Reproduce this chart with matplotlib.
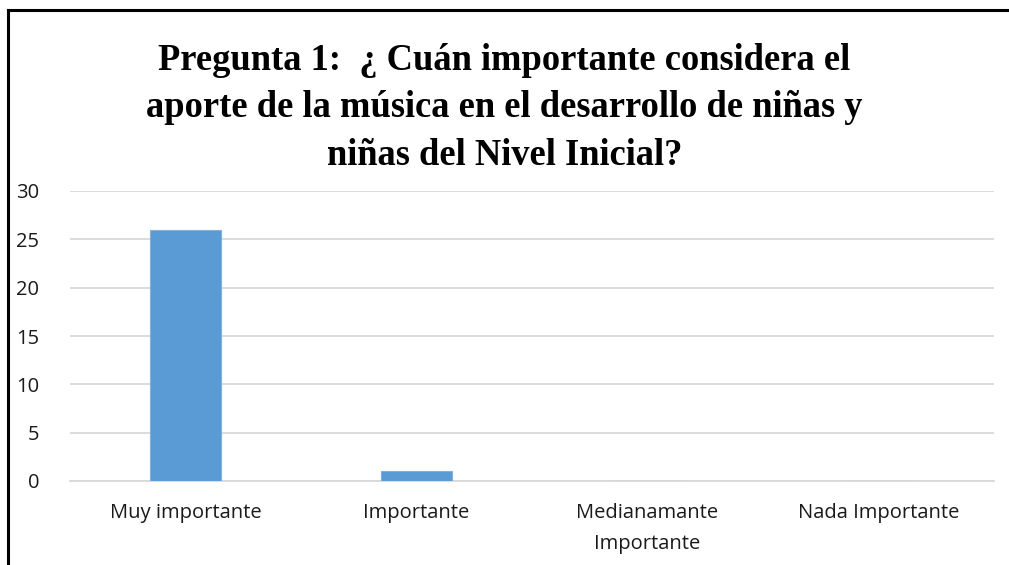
import matplotlib
matplotlib.use("Agg")
import matplotlib.pyplot as plt
from matplotlib.lines import Line2D

categories = ["Muy importante", "Importante", "Medianamante\nImportante", "Nada Importante"]
values = [26, 1, 0, 0]
yticks = [0, 5, 10, 15, 20, 25, 30]
title = "Pregunta 1:  ¿ Cuán importante considera el\naporte de la música en el desarrollo de niñas y\nniñas del Nivel Inicial?"

fig = plt.figure(figsize=(10.09, 5.65), dpi=100)
ax = fig.add_axes([70 / 1009, 1 - 481 / 565, (994 - 70) / 1009, (481 - 191) / 565])

x = range(len(categories))
ax.bar(x, values, width=0.31, color="#5b9bd5", edgecolor="#7fb0e0", linewidth=0.8, zorder=3)
ax.set_xlim(-0.5, 3.5)
ax.set_ylim(0, 30)
ax.set_yticks(yticks)
ax.set_xticks(list(x))
ax.set_xticklabels(categories, fontsize=14.5, family="Open Sans", color="#1a1a1a", linespacing=1.72)
for lab in ax.get_yticklabels():
  lab.set_fontfamily("Open Sans")
  lab.set_fontsize(14.5)
  lab.set_color("#1a1a1a")
ax.yaxis.grid(True, color="#d9d9d9", linewidth=1.3, zorder=0)
ax.tick_params(length=0)
ax.tick_params(axis="x", pad=16)
ax.tick_params(axis="y", pad=22)
for s in ["top", "right", "left"]:
  ax.spines[s].set_visible(False)
ax.spines["bottom"].set_color("#d9d9d9")
ax.spines["bottom"].set_linewidth(1.3)

fig.text(0.5, 1 - 108 / 565, title, ha="center", va="center", fontsize=26.3,
         fontweight="bold", family="Liberation Serif", linespacing=1.45)

# outer frame (runs past right and bottom edges of the image)
fig.add_artist(Line2D([7.5 / 1009, 7.5 / 1009], [0, 1 - 10 / 565], color="black", linewidth=2.2, transform=fig.transFigure))
fig.add_artist(Line2D([7.5 / 1009, 1.0], [1 - 10 / 565, 1 - 10 / 565], color="black", linewidth=2.2, transform=fig.transFigure))

fig.savefig("out.png", dpi=100)
